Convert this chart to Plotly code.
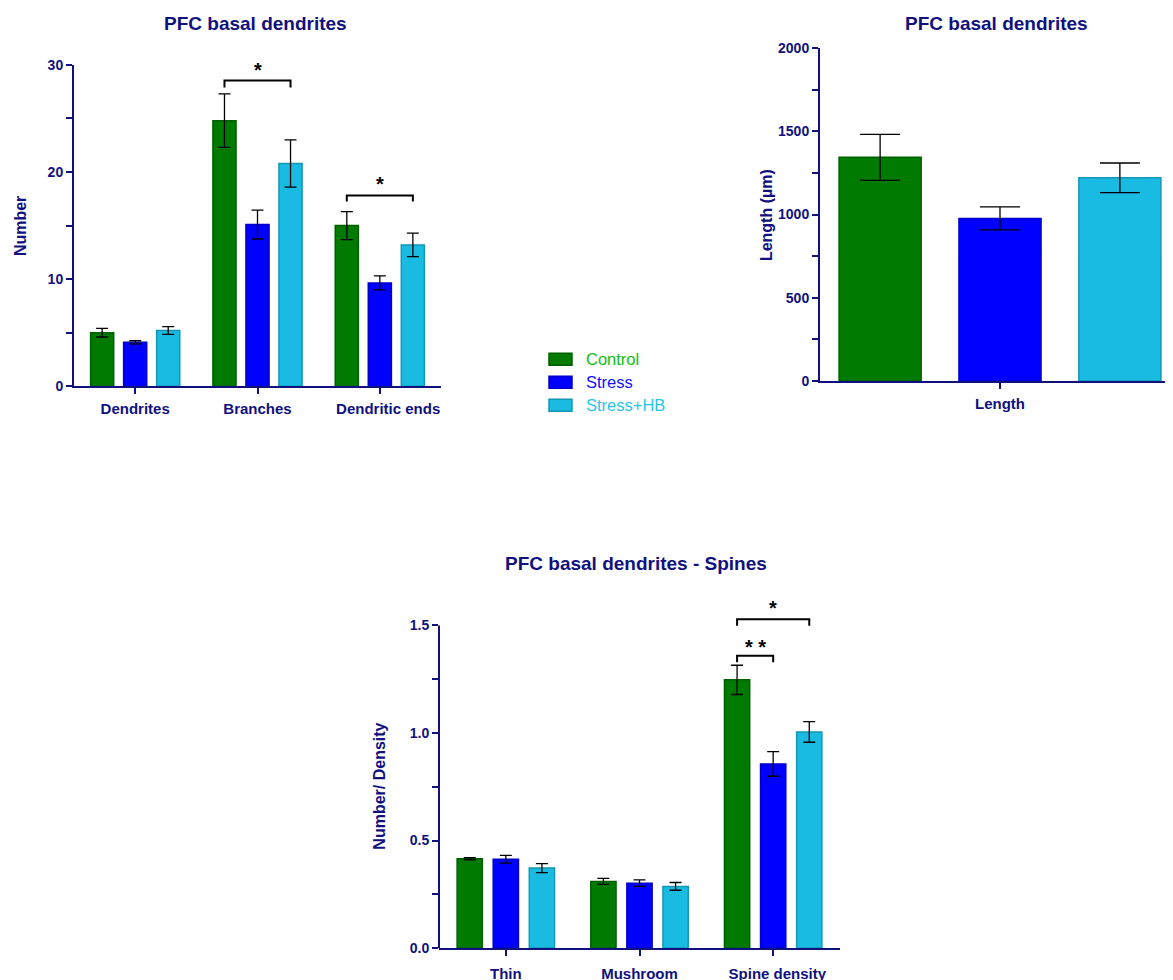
import plotly.graph_objects as go

# Calibrated mapping from reference window pixels to figure paper pixels
# (page is shown with a body offset and a slight vertical scaling).
W, H = 1173, 980
X_OFF = 8.0
Y_OFF, Y_SCALE = 16.1, 0.9827
NAVY = "#10107f"
FONT = "Liberation Sans"

groups = ["Control", "Stress", "Stress+HB"]
fill_colors = ["#007a00", "#0000ff", "#1abbe2"]
line_colors = ["#005f00", "#0000c8", "#1597b4"]
legend_text_colors = ["#11c011", "#1010ff", "#2ac4ea"]

# Top-left: dendrite counts
dend_cats = ["Dendrites", "Branches", "Dendritic ends"]
dend_ticktext = ["Dendrites", "Branches", "\u00a0\u00a0\u00a0\u00a0Dendritic ends"]
dend_vals = {
    "Control": [5.0, 24.8, 15.0],
    "Stress": [4.1, 15.1, 9.65],
    "Stress+HB": [5.2, 20.8, 13.2],
}
dend_err = {
    "Control": [0.4, 2.5, 1.3],
    "Stress": [0.15, 1.35, 0.65],
    "Stress+HB": [0.36, 2.2, 1.1],
}

# Top-right: total length
len_cats = ["Length"]
len_vals = {"Control": [1344], "Stress": [977], "Stress+HB": [1221]}
len_err = {"Control": [138], "Stress": [69], "Stress+HB": [89]}

# Bottom: spines
spine_cats = ["Thin", "Mushroom", "Spine density"]
spine_ticktext = ["Thin", "Mushroom", "\u00a0\u00a0Spine density"]
spine_vals = {
    "Control": [0.415, 0.310, 1.247],
    "Stress": [0.413, 0.302, 0.856],
    "Stress+HB": [0.372, 0.287, 1.005],
}
spine_err = {
    "Control": [0.005, 0.014, 0.068],
    "Stress": [0.018, 0.015, 0.057],
    "Stress+HB": [0.021, 0.018, 0.048],
}

BARGAP = 0.19
BARGROUPGAP = 0.30
SLOT = (1 - BARGAP) / 3.0


def px_x(p):
    return (p - X_OFF) / W


def px_y(p):
    return 1 - ((p - Y_OFF) / Y_SCALE) / H


fig = go.Figure()

for i, g in enumerate(groups):
    common = dict(
        name=g,
        marker=dict(color=fill_colors[i], line=dict(color=line_colors[i], width=1.5)),
        showlegend=False,
        hoverinfo="skip",
    )
    fig.add_trace(go.Bar(
        x=dend_cats, y=dend_vals[g], xaxis="x", yaxis="y",
        error_y=dict(type="data", array=dend_err[g], color="black", thickness=1.3, width=6),
        **common))
    fig.add_trace(go.Bar(
        x=spine_cats, y=spine_vals[g], xaxis="x3", yaxis="y3",
        error_y=dict(type="data", array=spine_err[g], color="black", thickness=1.3, width=6),
        **common))
    w = 0.228
    center = (i - 1) * 0.333
    fig.add_trace(go.Bar(
        x=len_cats, y=len_vals[g], xaxis="x2", yaxis="y2",
        width=[w], offset=[center - w / 2],
        error_y=dict(type="data", array=len_err[g], color="black", thickness=1.3, width=20),
        **common))

ytickfont = dict(family=FONT, size=14, color=NAVY, weight="bold")
xtickfont = dict(family=FONT, size=15, color=NAVY, weight="bold")
axis_common = dict(
    showline=True, linecolor=NAVY, linewidth=2, ticks="outside", ticklen=6,
    tickcolor=NAVY, tickwidth=2, showgrid=False, zeroline=False, fixedrange=True,
)
minor_common = dict(ticks="outside", ticklen=6, tickcolor=NAVY, tickwidth=2)

layout = dict(
    width=W, height=H,
    margin=dict(l=0, r=0, t=0, b=0),
    paper_bgcolor="white", plot_bgcolor="white",
    barmode="group", bargap=BARGAP, bargroupgap=BARGROUPGAP,
    showlegend=False,
    font=dict(family=FONT, color=NAVY),
    xaxis=dict(domain=[px_x(74), px_x(441)], anchor="y", type="category",
               range=[-0.5, 2.5], tickfont=xtickfont, ticklabelstandoff=2,
               tickmode="array", tickvals=dend_cats, ticktext=dend_ticktext, **axis_common),
    yaxis=dict(domain=[px_y(386), px_y(65)], anchor="x", range=[0, 30],
               tickvals=[0, 10, 20, 30], tickfont=ytickfont,
               minor=dict(tickvals=[5, 15, 25], **minor_common), **axis_common),
    xaxis2=dict(domain=[px_x(820), 1.0], anchor="y2", type="category",
                range=[-0.5, (W + X_OFF - 1000) / 360.0], tickfont=xtickfont,
                ticklabelstandoff=2, **axis_common),
    yaxis2=dict(domain=[px_y(380.7), px_y(48.3)], anchor="x2", range=[0, 2000],
                tickvals=[0, 500, 1000, 1500, 2000], tickfont=ytickfont,
                minor=dict(tickvals=[250, 750, 1250, 1750], **minor_common), **axis_common),
    xaxis3=dict(domain=[px_x(439), px_x(840)], anchor="y3", type="category",
                range=[-0.5, 2.5], tickfont=xtickfont, ticklabelstandoff=5,
                tickmode="array", tickvals=spine_cats, ticktext=spine_ticktext, **axis_common),
)
y3_common = dict(axis_common)
y3_common["showline"] = False
layout["yaxis3"] = dict(
    domain=[px_y(947.3), px_y(592.7)], anchor="x3", range=[0, 1.65],
    tickvals=[0, 0.5, 1.0, 1.5], ticktext=["0.0", "0.5", "1.0", "1.5"], tickfont=ytickfont,
    minor=dict(tickvals=[0.25, 0.75, 1.25], **minor_common), **y3_common)
fig.update_layout(**layout)

shapes = []
annotations = []

# bottom y axis line stops at 1.5 while brackets sit above it
shapes.append(dict(type="line", xref="x3 domain", yref="y3", x0=0, x1=0, y0=0, y1=1.5,
                   line=dict(color=NAVY, width=2)))


def bracket(xref, yref, xa, xb, ytop, drop, label, ystar):
    shapes.append(dict(
        type="path", xref=xref, yref=yref,
        path=f"M {xa},{ytop - drop} L {xa},{ytop} L {xb},{ytop} L {xb},{ytop - drop}",
        line=dict(color="black", width=2)))
    annotations.append(dict(
        x=(xa + xb) / 2, y=ystar, xref=xref, yref=yref, text=label, showarrow=False,
        font=dict(family=FONT, size=20, color="black", weight="bold"), yanchor="middle"))


bracket("x", "y", 1 - SLOT, 1 + SLOT, 28.55, 0.65, "*", 29.5)
bracket("x", "y", 2 - SLOT, 2 + SLOT, 17.8, 0.55, "*", 18.85)
bracket("x3", "y3", 2 - SLOT, 2, 1.359, 0.03, "* *", 1.40)
bracket("x3", "y3", 2 - SLOT, 2 + SLOT, 1.529, 0.031, "*", 1.58)

title_font = dict(family=FONT, size=19, color=NAVY, weight="bold")
axis_title_font = dict(family=FONT, size=16, color=NAVY, weight="bold")

for txt, x, y in [("PFC basal dendrites", 255, 24),
                  ("PFC basal dendrites", 996, 24),
                  ("PFC basal dendrites - Spines", 636, 563)]:
    annotations.append(dict(text=txt, x=px_x(x), y=px_y(y), xref="paper", yref="paper",
                            showarrow=False, font=title_font, xanchor="center", yanchor="middle"))

for txt, x, y in [("Number", 20, 226), ("Length (µm)", 766, 215), ("Number/ Density", 380, 786)]:
    annotations.append(dict(text=txt, x=px_x(x), y=px_y(y), xref="paper", yref="paper",
                            showarrow=False, font=axis_title_font, textangle=-90,
                            xanchor="center", yanchor="middle"))

# legend drawn by hand (wide swatches, coloured labels)
for i, g in enumerate(groups):
    yc = 359 + 23 * i
    shapes.append(dict(type="rect", xref="paper", yref="paper",
                       x0=px_x(549), x1=px_x(572), y0=px_y(yc + 6), y1=px_y(yc - 6),
                       fillcolor=fill_colors[i], line=dict(color=line_colors[i], width=1.5)))
    annotations.append(dict(text=g, x=px_x(584), y=px_y(yc), xref="paper", yref="paper",
                            showarrow=False, xanchor="left", yanchor="middle",
                            font=dict(family=FONT, size=16.5, color=legend_text_colors[i])))

fig.update_layout(shapes=shapes, annotations=annotations)
fig.write_html("out.html")
